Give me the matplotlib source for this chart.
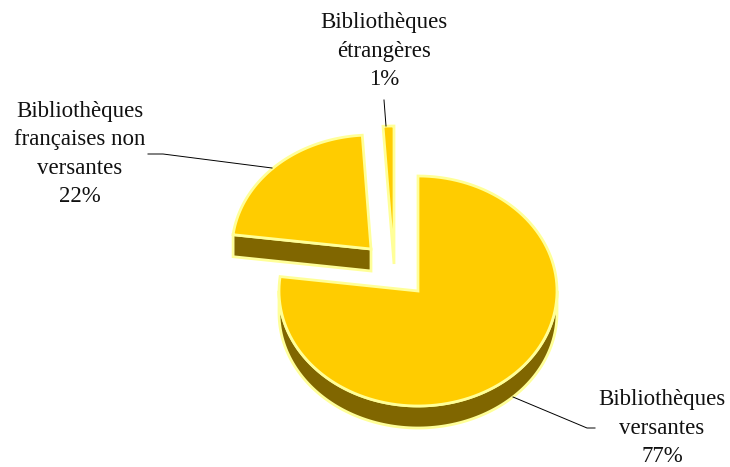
import numpy as np
import matplotlib
matplotlib.use("Agg")
import matplotlib.pyplot as plt
from matplotlib.patches import Polygon

names = ["Bibliothèques\nversantes", "Bibliothèques\nfrançaises non\nversantes", "Bibliothèques\nétrangères"]
values = [77, 22, 1]

GOLD = "#FFCC00"
SIDE = "#806600"
EDGE = "#FFFF99"

# layout in pixels: apex of each exploded slice, radii
apex = [(418, 291), (371, 249), (394, 264)]
radii = [(139, 115), (139, 114), (175, 138)]
depth = 22


def arc(cx, cy, rx, ry, a0, a1, n=120):
    t = np.radians(np.linspace(a0, a1, n))
    return np.column_stack([cx + rx * np.cos(t), cy - ry * np.sin(t)])


fig = plt.figure(figsize=(7.3, 4.67), dpi=100)
ax = fig.add_axes([0, 0, 1, 1])
ax.set_xlim(0, 730)
ax.set_ylim(467, 0)
ax.axis("off")

# slices run clockwise from the top
angles = 90 - 3.6 * np.cumsum([0] + values)

for i in [2, 1, 0]:
    a0, a1 = angles[i], angles[i + 1]
    cx, cy = apex[i]
    rx, ry = radii[i]
    top = arc(cx, cy, rx, ry, a0, a1)
    if i == 0:
        # round outer wall, visible on the lower half only
        rim = arc(cx, cy, rx, ry, 0, -180)
        wall = np.vstack([rim, rim[::-1] + [0, depth]])
        ax.add_patch(Polygon(wall, fc=SIDE, ec=EDGE, lw=2, joinstyle="round"))
    if i == 1:
        # flat cut face in front of the slice
        p = np.array([top[0], [cx, cy], [cx, cy + depth], top[0] + [0, depth]])
        ax.add_patch(Polygon(p, fc=SIDE, ec=EDGE, lw=2, joinstyle="miter"))
    ax.add_patch(Polygon(np.vstack([[cx, cy], top]), fc=GOLD, ec=EDGE, lw=2, joinstyle="miter"))

# leader lines
ax.plot([513, 587, 595], [397, 428, 428], color="black", lw=0.7)
ax.plot([148, 163, 272], [154, 154, 168], color="black", lw=0.7)
ax.plot([384, 386], [100, 126], color="black", lw=0.7)

label_pos = [(662, 428), (80, 154), (384, 51)]
for name, v, (x, y) in zip(names, values, label_pos):
    ax.text(x, y, f"{name}\n{v}%", ha="center", va="center", family="Liberation Serif",
            fontsize=16.5, linespacing=1.44, color="#111111")

fig.savefig("out.png", dpi=100)
